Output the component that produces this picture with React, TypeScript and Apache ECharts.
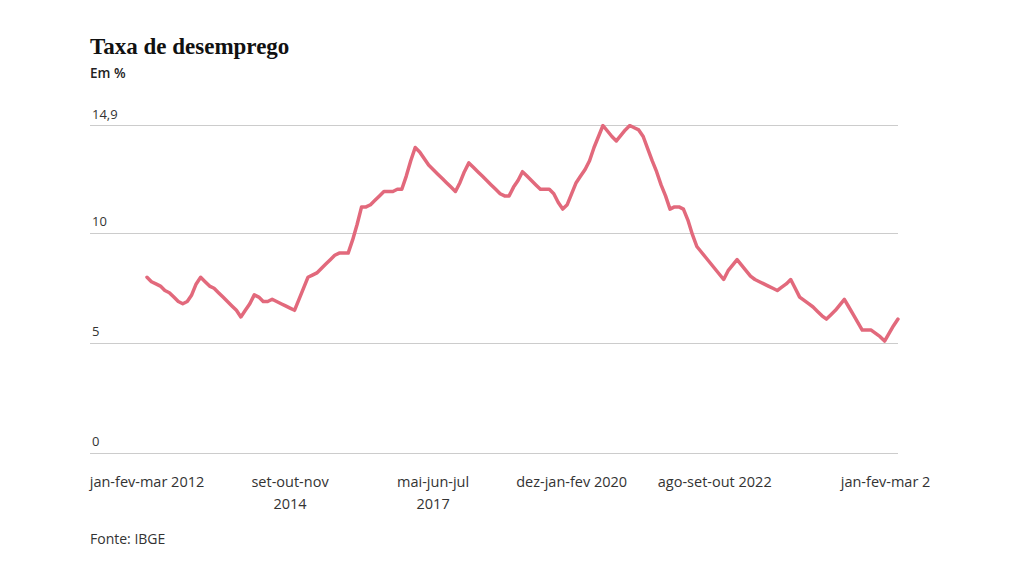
import React, { useEffect, useRef } from "react";
import * as echarts from "echarts";

// Rolling-quarter unemployment rate (%), jan-fev-mar 2012 .. jan-fev-mar 2026
const rate2012 = [8.0, 7.8, 7.7, 7.6, 7.4, 7.3, 7.1, 6.9, 6.8, 6.9, 7.2, 7.7];
const rate2013 = [8.0, 7.8, 7.6, 7.5, 7.3, 7.1, 6.9, 6.7, 6.5, 6.2, 6.5, 6.8];
const rate2014 = [7.2, 7.1, 6.9, 6.9, 7.0, 6.9, 6.8, 6.7, 6.6, 6.5, 7.0, 7.5];
const rate2015 = [8.0, 8.1, 8.2, 8.4, 8.6, 8.8, 9.0, 9.1, 9.1, 9.1, 9.7, 10.4];
const rate2016 = [11.2, 11.2, 11.3, 11.5, 11.7, 11.9, 11.9, 11.9, 12.0, 12.0, 12.6, 13.3];
const rate2017 = [13.9, 13.7, 13.4, 13.1, 12.9, 12.7, 12.5, 12.3, 12.1, 11.9, 12.3, 12.8];
const rate2018 = [13.2, 13.0, 12.8, 12.6, 12.4, 12.2, 12.0, 11.8, 11.7, 11.7, 12.1, 12.4];
const rate2019 = [12.8, 12.6, 12.4, 12.2, 12.0, 12.0, 12.0, 11.8, 11.4, 11.1, 11.3, 11.8];
const rate2020 = [12.3, 12.6, 12.9, 13.3, 13.9, 14.4, 14.9, 14.65, 14.4, 14.2, 14.45, 14.7];
const rate2021 = [14.9, 14.8, 14.7, 14.4, 13.85, 13.3, 12.8, 12.2, 11.7, 11.1, 11.2, 11.2];
const rate2022 = [11.1, 10.6, 9.95, 9.4, 9.15, 8.9, 8.65, 8.4, 8.15, 7.9, 8.3, 8.55];
const rate2023 = [8.8, 8.55, 8.3, 8.05, 7.9, 7.8, 7.7, 7.6, 7.5, 7.4, 7.55, 7.7];
const rate2024 = [7.9, 7.5, 7.1, 6.95, 6.8, 6.65, 6.45, 6.25, 6.1, 6.3, 6.5, 6.75];
const rate2025 = [7.0, 6.65, 6.3, 5.95, 5.6, 5.6, 5.6, 5.45, 5.3, 5.1, 5.45, 5.8];
const rate2026 = [6.1];

const allRates = [
  ...rate2012, ...rate2013, ...rate2014, ...rate2015, ...rate2016,
  ...rate2017, ...rate2018, ...rate2019, ...rate2020, ...rate2021,
  ...rate2022, ...rate2023, ...rate2024, ...rate2025, ...rate2026,
];

// x tick positions (period index) and their labels
const tickIndex = [0, 32, 64, 95, 127, 168];
const tickLabels = [
  "jan-fev-mar 2012",
  "set-out-nov\n2014",
  "mai-jun-jul\n2017",
  "dez-jan-fev 2020",
  "ago-set-out 2022",
  "jan-fev-mar 2026",
];

const yMax = 14.9;

const TITLE = "Taxa de desemprego";
const SUBTITLE = "Em %";
const SOURCE = "Fonte: IBGE";

export default function App() {
  const ref = useRef<HTMLDivElement>(null);

  useEffect(() => {
    if (!ref.current) return;
    const chart = echarts.init(ref.current, null, { renderer: "svg" });
    const seriesData = allRates.map((v, i) => [i, v]);
    const sans = "'Open Sans', 'Noto Sans', sans-serif";
    chart.setOption({
      animation: false,
      backgroundColor: "#ffffff",
      grid: {
        left: 90,
        right: 32,
        top: 125.5,
        bottom: 122.7,
        containLabel: false,
        outerBoundsMode: "none",
      },
      xAxis: {
        type: "value",
        min: -12.75,
        max: 168,
        axisLine: { show: false },
        axisTick: { show: false },
        splitLine: { show: false },
        axisLabel: {
          customValues: tickIndex,
          showMinLabel: true,
          showMaxLabel: true,
          hideOverlap: false,
          margin: 17,
          fontFamily: sans,
          fontSize: 14.5,
          lineHeight: 22,
          color: "#333333",
          align: "center",
          formatter: (v: number) => {
            const k = tickIndex.indexOf(Math.round(v));
            return k >= 0 ? tickLabels[k] : "";
          },
        },
      },
      yAxis: {
        type: "value",
        min: 0,
        max: yMax,
        interval: 5,
        axisLine: { show: false },
        axisTick: { show: false },
        splitLine: { show: true, lineStyle: { color: "#cccccc", width: 1.2 } },
        axisLabel: {
          inside: true,
          margin: 2,
          align: "left",
          verticalAlign: "bottom",
          lineHeight: 14,
          padding: [0, 0, 5, 0],
          fontFamily: sans,
          fontSize: 13,
          color: "#333333",
          formatter: (v: number) => String(v).replace(".", ","),
        },
      },
      series: [
        {
          type: "line",
          data: seriesData,
          symbol: "none",
          smooth: false,
          lineStyle: { color: "#e2697c", width: 3.5, cap: "round", join: "round" },
        },
      ],
      graphic: [
        {
          type: "text",
          left: 90,
          top: 35,
          style: {
            text: TITLE,
            font: "bold 23px 'Liberation Serif', serif",
            fill: "#111111",
          },
        },
        {
          type: "text",
          left: 90,
          top: 66,
          style: {
            text: SUBTITLE,
            font: "600 13.5px 'Open Sans', sans-serif",
            fill: "#222222",
          },
        },
        {
          type: "text",
          left: 90,
          top: 531,
          style: {
            text: SOURCE,
            font: "14px 'Open Sans', sans-serif",
            fill: "#333333",
          },
        },
      ],
    });
    return () => chart.dispose();
  }, []);

  return (
    <div
      ref={ref}
      style={{ position: "fixed", left: 0, top: 0, width: 930, height: 576, overflow: "hidden" }}
    />
  );
}
